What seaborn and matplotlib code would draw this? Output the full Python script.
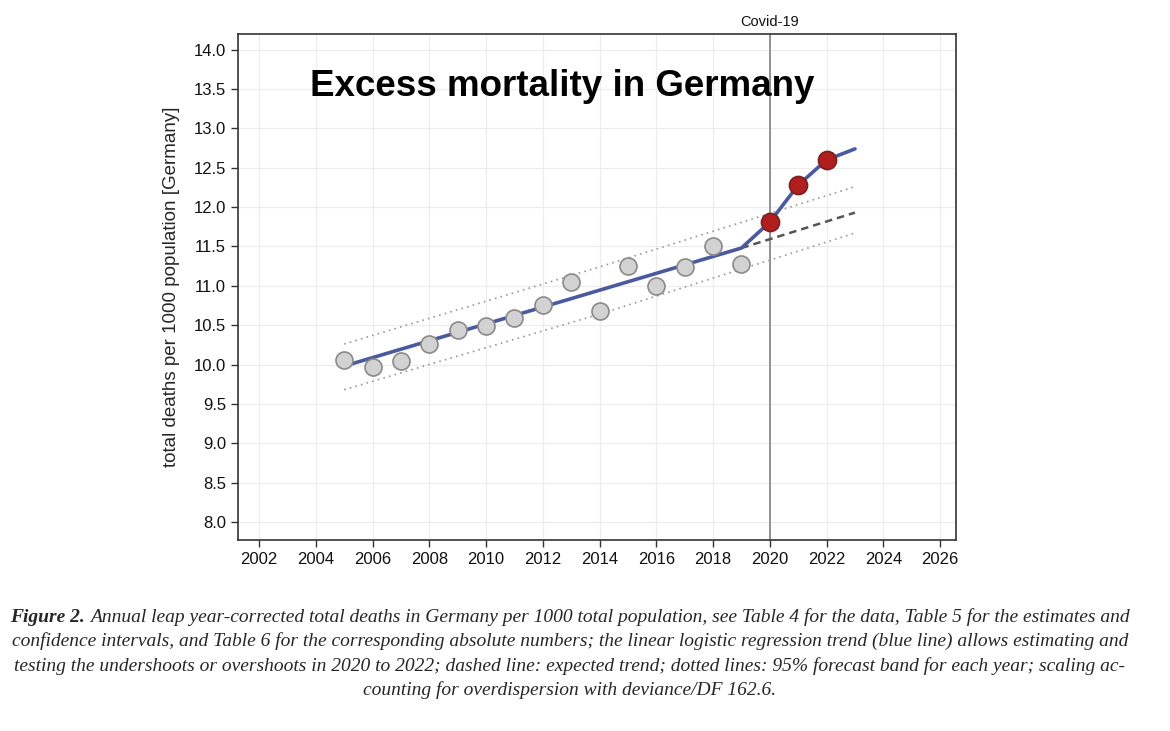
import matplotlib
matplotlib.use("Agg")
import matplotlib.pyplot as plt
import seaborn as sns
import pandas as pd

# observed values (deaths per 1000)
years = [2005, 2006, 2007, 2008, 2009, 2010, 2011, 2012, 2013, 2014,
         2015, 2016, 2017, 2018, 2019]
deaths = [10.06, 9.97, 10.05, 10.26, 10.44, 10.49, 10.59, 10.76, 11.05, 10.68,
          11.25, 11.00, 11.24, 11.50, 11.28]
covid_years = [2020, 2021, 2022]
covid_deaths = [11.81, 12.28, 12.60]

# fitted trend, excess path, expected trend, forecast band
trend_years = [2005, 2019, 2020, 2021, 2022, 2023]
trend_vals = [9.98, 11.48, 11.81, 12.28, 12.60, 12.74]
expected_years = [2019, 2023]
expected_vals = [11.48, 11.93]
band_years = [2005, 2014, 2023]
band_upper = [10.26, 11.24, 12.26]
band_lower = [9.68, 10.64, 11.67]

x_ticks = list(range(2002, 2027, 2))
y_ticks = [8.0, 8.5, 9.0, 9.5, 10.0, 10.5, 11.0, 11.5, 12.0, 12.5, 13.0, 13.5, 14.0]

caption = [
    "Annual leap year-corrected total deaths in Germany per 1000 total population, see Table 4 for the data, Table 5 for the estimates and",
    "confidence intervals, and Table 6 for the corresponding absolute numbers; the linear logistic regression trend (blue line) allows estimating and",
    "testing the undershoots or overshoots in 2020 to 2022; dashed line: expected trend; dotted lines: 95% forecast band for each year; scaling ac-",
    "counting for overdispersion with deviance/DF 162.6.",
]

sns.set_style("whitegrid", {"grid.color": "#ececec", "axes.edgecolor": "#333333"})
plt.rcParams['font.family'] = ['Liberation Sans', 'DejaVu Sans']

obs = pd.DataFrame({"year": years, "deaths": deaths})
cov = pd.DataFrame({"year": covid_years, "deaths": covid_deaths})
trend = pd.DataFrame({"year": trend_years, "deaths": trend_vals})
expected = pd.DataFrame({"year": expected_years, "deaths": expected_vals})
band = pd.DataFrame({"year": band_years, "upper": band_upper, "lower": band_lower})

fig = plt.figure(figsize=(11.7, 7.31), dpi=100)
ax = fig.add_axes([0.2034, 0.2613, 0.6137, 0.6922])

ax.axvline(2020, color="#777777", lw=1.1, zorder=1)
sns.lineplot(data=band, x="year", y="upper", ax=ax, color="#999999", lw=1.2,
             linestyle=(0, (1, 2.5)), zorder=2)
sns.lineplot(data=band, x="year", y="lower", ax=ax, color="#999999", lw=1.2,
             linestyle=(0, (1, 2.5)), zorder=2)
sns.lineplot(data=expected, x="year", y="deaths", ax=ax, color="#555555", lw=1.8,
             linestyle=(0, (3, 2)), zorder=2)
sns.lineplot(data=trend, x="year", y="deaths", ax=ax, color="#4b5a9e", lw=2.6, zorder=3)
sns.scatterplot(data=obs, x="year", y="deaths", ax=ax, s=150, color="#d2d2d2",
                edgecolor="#8a8a8a", linewidth=1.2, zorder=4)
sns.scatterplot(data=cov, x="year", y="deaths", ax=ax, s=170, color="#b01e1e",
                edgecolor="#7a2020", linewidth=1.2, zorder=5)

ax.set_xlim(2001.26, 2026.56)
ax.set_ylim(7.77, 14.2)
ax.set_xticks(x_ticks)
ax.set_yticks(y_ticks)
ax.set_yticklabels([f"{v:.1f}" for v in y_ticks])
ax.tick_params(axis="both", which="both", direction="out", length=5, width=1,
               color="#333333", labelsize=12, labelcolor="#111111", bottom=True, left=True)
ax.set_xlabel("")
ax.set_ylabel("total deaths per 1000 population [Germany]", fontsize=13.5, labelpad=10)
for sp in ax.spines.values():
    sp.set_linewidth(1.2)
    sp.set_color("#333333")

ax.text(2003.8, 13.53, "Excess mortality in Germany", fontsize=26.5, fontweight="bold",
        va="center", ha="left", color="black")
ax.text(2020, 14.26, "Covid-19", fontsize=10.5, ha="center", va="bottom", color="#111111")

# caption
serif = ["Liberation Serif", "DejaVu Serif"]
line_y = [617, 641, 666, 690]
fig.canvas.draw()
r = fig.canvas.get_renderer()
for i, (txt, py) in enumerate(zip(caption, line_y)):
    y = 1 - py / 731
    if i == 0:
        lab = fig.text(0, y, "Figure 2. ", family=serif, style="italic", fontweight="bold",
                       fontsize=14, va="center", ha="left")
        rest = fig.text(0, y, txt, family=serif, style="italic", fontsize=14,
                        va="center", ha="left")
        w1 = lab.get_window_extent(r).width
        w2 = rest.get_window_extent(r).width
        x0 = (570 - (w1 + w2) / 2) / 1170
        lab.set_x(x0)
        rest.set_x(x0 + w1 / 1170)
    else:
        fig.text(570 / 1170, y, txt, family=serif, style="italic", fontsize=14,
                 va="center", ha="center")

fig.savefig("out.png", dpi=100)
